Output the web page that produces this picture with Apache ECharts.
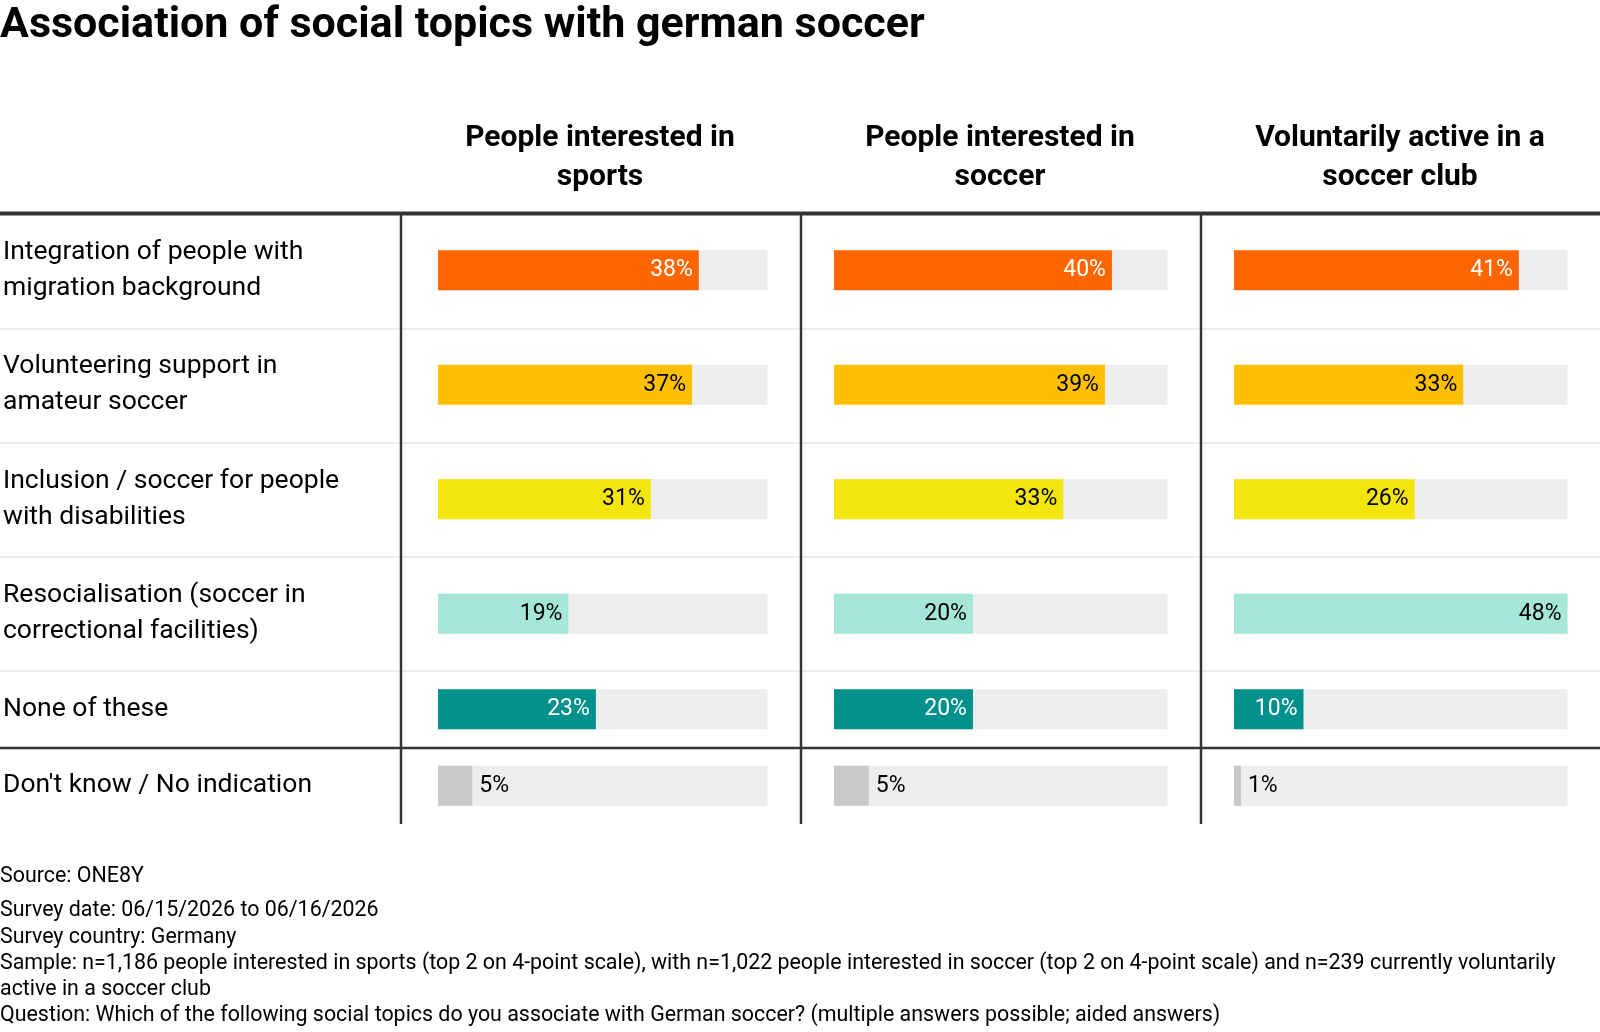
<!DOCTYPE html>
<html>
<head>
<meta charset="utf-8">
<title>Association of social topics with german soccer</title>
<script src="https://cdn.jsdelivr.net/npm/echarts@6/dist/echarts.min.js"></script>
<style>
  html, body { margin: 0; padding: 0; background: #fff; }
  #chart { width: 1600px; height: 1032px; }
</style>
</head>
<body>
<div id="chart"></div>
<script>
// data
var categories = [
  'Integration of people with\nmigration background',
  'Volunteering support in\namateur soccer',
  'Inclusion / soccer for people\nwith disabilities',
  'Resocialisation (soccer in\ncorrectional facilities)',
  'None of these',
  "Don't know / No indication"
];
var panelTitles = [
  'People interested in\nsports',
  'People interested in\nsoccer',
  'Voluntarily active in a\nsoccer club'
];
var sportsValues = [38, 37, 31, 19, 23, 5];
var soccerValues = [40, 39, 33, 20, 20, 5];
var clubValues   = [41, 33, 26, 48, 10, 1];
var axisMax = 48;

var sourceText = 'Source: ONE8Y';
var notesText = [
  'Survey date: 06/15/2026 to 06/16/2026',
  'Survey country: Germany',
  'Sample: n=1,186 people interested in sports (top 2 on 4-point scale), with n=1,022 people interested in soccer (top 2 on 4-point scale) and n=239 currently voluntarily',
  'active in a soccer club',
  'Question: Which of the following social topics do you associate with German soccer? (multiple answers possible; aided answers)'
];

var barColors   = ['#ff6600', '#fdbf00', '#f3e50e', '#a6e6d8', '#00918d', '#c9c9c9'];
var labelColors = ['#fff', '#000', '#000', '#000', '#fff', '#000'];

var FONT = 'Roboto, "DejaVu Sans", sans-serif';
var panels = [sportsValues, soccerValues, clubValues];

var chart = echarts.init(document.getElementById('chart'));

var grids = [], xAxes = [], yAxes = [], series = [];
// each panel: top block (rows 0-3, tall rows) and bottom block (rows 4-5)
var blocks = [
  { from: 0, to: 4, top: 213, height: 458 },
  { from: 4, to: 6, top: 671, height: 153 }
];

panels.forEach(function (vals, p) {
  blocks.forEach(function (b) {
    var gi = grids.length;
    grids.push({ left: 434 + p * 400, width: 333.5, top: b.top, height: b.height });
    xAxes.push({ gridIndex: gi, type: 'value', min: 0, max: axisMax, show: false });
    yAxes.push({
      gridIndex: gi,
      type: 'category',
      inverse: true,
      data: categories.slice(b.from, b.to),
      axisLine: { show: false },
      axisTick: { show: false },
      splitLine: { show: false },
      axisLabel: {
        show: p === 0,
        margin: 435,
        align: 'left',
        color: '#000',
        fontFamily: FONT,
        fontSize: 26.5,
        lineHeight: 36
      }
    });
    series.push({
      type: 'bar',
      xAxisIndex: gi,
      yAxisIndex: gi,
      barWidth: 40,
      showBackground: true,
      backgroundStyle: { color: '#ededed' },
      silent: true,
      data: vals.slice(b.from, b.to).map(function (v, k) {
        var i = b.from + k;
        return {
          value: v,
          itemStyle: { color: barColors[i] },
          label: {
            show: true,
            position: i === 5 ? 'right' : 'insideRight',
            distance: i === 5 ? 7 : 6,
            formatter: '{c}%',
            color: labelColors[i],
            fontFamily: FONT,
            fontSize: 23
          }
        };
      })
    });
  });
});

var graphics = [];
// light row separators
[329, 443, 557, 671].forEach(function (y) {
  graphics.push({ type: 'line', shape: { x1: 0, y1: y, x2: 1600, y2: y },
    style: { stroke: '#ebebeb', lineWidth: 2 }, z: 1 });
});
// dark rule above "Don't know"
graphics.push({ type: 'line', shape: { x1: 0, y1: 748, x2: 1600, y2: 748 },
  style: { stroke: '#333', lineWidth: 2.5 }, z: 2 });
// header rule
graphics.push({ type: 'line', shape: { x1: 0, y1: 213.5, x2: 1600, y2: 213.5 },
  style: { stroke: '#333', lineWidth: 4 }, z: 3 });
// panel dividers
[401, 801, 1201].forEach(function (x) {
  graphics.push({ type: 'line', shape: { x1: x, y1: 213, x2: x, y2: 824 },
    style: { stroke: '#333', lineWidth: 2.5 }, z: 2 });
});
// panel headers
panelTitles.forEach(function (t, p) {
  graphics.push({ type: 'text', x: 600 + p * 400, y: 158,
    style: { text: t, fill: '#000', fontFamily: FONT, fontSize: 30, fontWeight: 'bold',
      lineHeight: 38.5, align: 'center', verticalAlign: 'middle' } });
});
// footnotes
graphics.push({ type: 'text', x: 0, y: 864,
  style: { text: sourceText, fill: '#000', fontFamily: FONT, fontSize: 21.4,
    lineHeight: 26, align: 'left', verticalAlign: 'top' } });
graphics.push({ type: 'text', x: 0, y: 898,
  style: { text: notesText.join('\n'), fill: '#000', fontFamily: FONT, fontSize: 21.4,
    lineHeight: 26.2, align: 'left', verticalAlign: 'top' } });

chart.setOption({
  animation: false,
  backgroundColor: '#fff',
  title: {
    text: 'Association of social topics with german soccer',
    left: 0,
    top: 3,
    padding: 0,
    textStyle: { color: '#000', fontFamily: FONT, fontSize: 43, fontWeight: 'bold', lineHeight: 46 }
  },
  grid: grids,
  xAxis: xAxes,
  yAxis: yAxes,
  series: series,
  graphic: graphics
});
</script>
</body>
</html>
